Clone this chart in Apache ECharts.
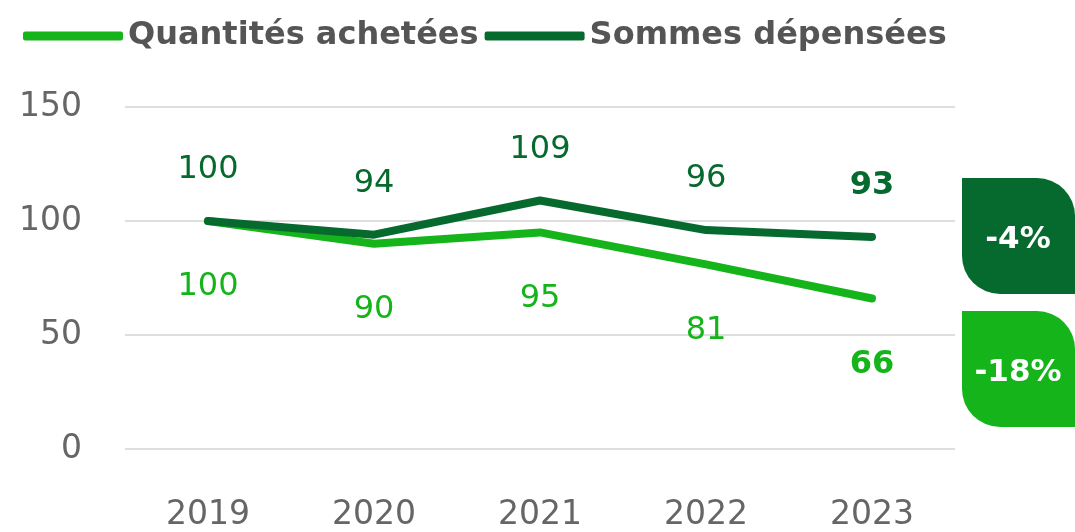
<!DOCTYPE html>
<html>
<head>
<meta charset="utf-8">
<script src="https://cdn.jsdelivr.net/npm/echarts@6/dist/echarts.min.js"></script>
<style>
  html, body { margin: 0; padding: 0; background: #fff; }
  #chart { width: 1075px; height: 532px; }
</style>
</head>
<body>
<div id="chart"></div>
<script>
// données (indice base 100 en 2019)
const years = ['2019', '2020', '2021', '2022', '2023'];
const quantites = [100, 90, 95, 81, 66];
const sommes = [100, 94, 109, 96, 93];
const seriesNames = ['Quantités achetées', 'Sommes dépensées'];
const evolutions = ['-4%', '-18%'];

const DARK = '#066a2e';
const LIGHT = '#14b41a';
const FONT = '"DejaVu Sans", sans-serif';

// dernier point en gras
const withLastBold = (arr) => arr.map((v, i) => i === arr.length - 1
  ? { value: v, label: { fontWeight: 'bold' } }
  : v);

const chart = echarts.init(document.getElementById('chart'));

// badge en forme de feuille (coins haut-droit / bas-gauche arrondis)
const badge = (top, color, text) => ({
  type: 'group',
  right: 0,
  top: top,
  children: [
    { type: 'rect', shape: { x: 0, y: 0, width: 113, height: 116, r: [0, 38, 0, 38] },
      style: { fill: color } },
    { type: 'text', x: 56, y: 62,
      style: { text: text, fill: '#fff', font: 'bold 31px ' + FONT,
        textAlign: 'center', textVerticalAlign: 'middle' } },
  ],
});

chart.setOption({
  backgroundColor: '#fff',
  textStyle: { fontFamily: FONT },
  legend: {
    left: 18, top: 15,
    itemWidth: 100, itemHeight: 9, itemGap: 6,
    icon: 'roundRect',
    textStyle: { color: '#555', fontSize: 32, fontWeight: 'bold', fontFamily: FONT },
    data: seriesNames,
  },
  grid: { left: 125, right: 120, top: 107, bottom: 80 },
  xAxis: {
    type: 'category', data: years,
    axisLine: { show: false }, axisTick: { show: false },
    axisLabel: { color: '#666', fontSize: 33, margin: 50 },
  },
  yAxis: {
    type: 'value', min: 0, max: 150, interval: 50,
    axisLabel: { color: '#666', fontSize: 33, margin: 43 },
    splitLine: { lineStyle: { color: '#dedede', width: 2 } },
  },
  series: [
    {
      name: seriesNames[0], type: 'line', data: withLastBold(quantites),
      symbol: 'circle', symbolSize: 0, z: 2,
      lineStyle: { color: LIGHT, width: 8, cap: 'round', join: 'round' },
      itemStyle: { color: LIGHT },
      label: { show: true, position: 'bottom', distance: 50, color: LIGHT, fontSize: 32 },
    },
    {
      name: seriesNames[1], type: 'line', data: withLastBold(sommes),
      symbol: 'circle', symbolSize: 0, z: 3,
      lineStyle: { color: DARK, width: 8, cap: 'round', join: 'round' },
      itemStyle: { color: DARK },
      label: { show: true, position: 'top', distance: 35, color: DARK, fontSize: 32 },
    },
  ],
  graphic: [
    badge(178, DARK, evolutions[0]),
    badge(311, LIGHT, evolutions[1]),
  ],
});

window.addEventListener('resize', () => chart.resize());
</script>
</body>
</html>
